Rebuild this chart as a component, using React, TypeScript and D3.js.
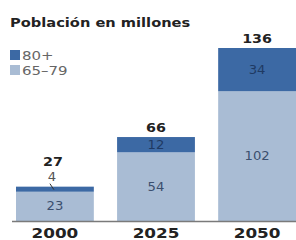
import React from 'react';
import * as d3 from 'd3';

const years = ['2000', '2025', '2050'];
const age65to79 = [23, 54, 102];
const age80plus = [4, 12, 34];
const totals = [27, 66, 136];
const legendLabels = ['80+', '65–79'];

const W = 296;
const H = 240;
const SX = 1.2; // the reference text is slightly stretched sideways
const dark = '#3c69a4';
const light = '#a9bcd4';
const font = '"DejaVu Sans", Verdana, sans-serif';

function T({ x, y, size, weight = 'normal', fill = '#222', anchor = 'middle', sx = SX, children }: any) {
  return (
    <text
      transform={`translate(${x},${y}) scale(${sx},1)`}
      fontSize={size}
      fontWeight={weight}
      fill={fill}
      textAnchor={anchor}
      fontFamily={font}
    >
      {children}
    </text>
  );
}

export default function App() {
  const x = d3.scaleBand<string>().domain(years).range([16, 296]).paddingInner(0.23).paddingOuter(0);
  const y = d3.scaleLinear().domain([0, 136]).range([221, 48]);
  const bw = x.bandwidth();

  return (
    <svg width={W} height={H} style={{ position: 'absolute', left: 0, top: 0, background: '#fff' }}>
      <T x={10} y={27} size={12.2} weight="bold" anchor="start">Población en millones</T>

      {/* legend */}
      {legendLabels.map((l, i) => (
        <g key={l}>
          <rect x={10} y={50 + i * 15} width={10} height={10} fill={i === 0 ? dark : light} />
          <T x={22} y={60 + i * 15} size={12.5} fill="#666" anchor="start">{l}</T>
        </g>
      ))}

      {years.map((yr, i) => {
        const x0 = x(yr)!;
        const cx = x0 + bw / 2;
        const yMid = y(age65to79[i]);
        const yTop = y(totals[i]);
        const segH = yMid - yTop;
        const inside = segH > 12;
        return (
          <g key={yr}>
            <rect x={x0} y={yMid} width={bw} height={y(0) - yMid} fill={light} />
            <rect x={x0} y={yTop} width={bw} height={segH} fill={dark} />
            <T x={cx} y={(yMid + y(0)) / 2 + 4} size={12} fill="#3b4f6e" sx={1.1}>{age65to79[i]}</T>
            {inside ? (
              <T x={cx} y={(yTop + yMid) / 2 + 4.5} size={12} fill="#1f3a63" sx={1.1}>{age80plus[i]}</T>
            ) : (
              <g>
                <line x1={cx - 5} y1={yTop - 3} x2={cx - 1} y2={yTop + 3} stroke="#333" strokeWidth={1} />
                <T x={cx - 3} y={yTop - 6} size={12} fill="#555" sx={1.1}>{age80plus[i]}</T>
              </g>
            )}
            <T x={cx - (inside ? 0 : 2)} y={inside ? yTop - 5 : yTop - 21} size={13} weight="bold" sx={1.1}>
              {totals[i]}
            </T>
            <T x={cx} y={237.5} size={14} weight="bold">{yr}</T>
          </g>
        );
      })}

      <line x1={12} x2={W} y1={y(0) + 0.5} y2={y(0) + 0.5} stroke="#7a7a7a" strokeWidth={1.5} />
    </svg>
  );
}
